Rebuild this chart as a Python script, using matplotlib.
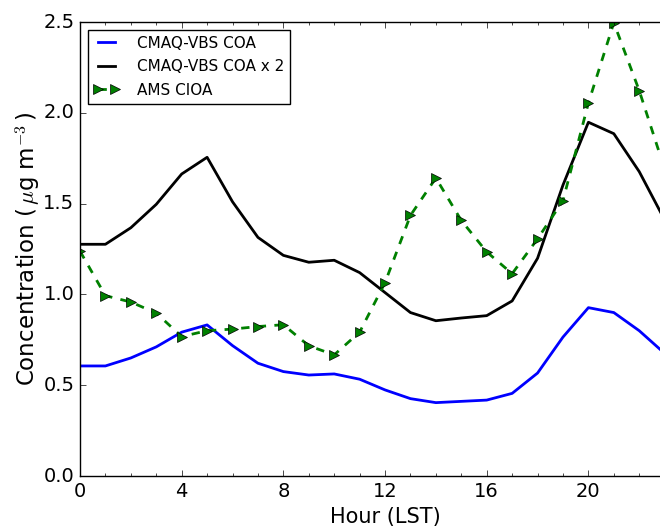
import matplotlib
matplotlib.use("Agg")
import matplotlib.pyplot as plt
from matplotlib.ticker import MultipleLocator, FixedLocator

plt.style.use("classic")
plt.rcParams["figure.facecolor"] = "white"
plt.rcParams["savefig.facecolor"] = "white"

hours = list(range(24))
cmaq_coa = [0.606, 0.606, 0.650, 0.711, 0.792, 0.832, 0.718, 0.621, 0.575, 0.556,
            0.562, 0.533, 0.474, 0.426, 0.404, 0.411, 0.418, 0.455, 0.567, 0.765,
            0.927, 0.900, 0.800, 0.675]
cmaq_coa_x2 = [1.276, 1.276, 1.367, 1.496, 1.663, 1.755, 1.510, 1.314, 1.215, 1.177,
               1.188, 1.120, 1.010, 0.900, 0.855, 0.870, 0.883, 0.964, 1.199, 1.602,
               1.948, 1.885, 1.676, 1.410]
ams_cioa = [1.238, 0.993, 0.958, 0.897, 0.768, 0.800, 0.809, 0.823, 0.833, 0.717,
            0.667, 0.792, 1.065, 1.435, 1.641, 1.407, 1.234, 1.114, 1.306, 1.516,
            2.054, 2.496, 2.122, 1.690]
xtick_labels = [0, 4, 8, 12, 16, 20]

fig = plt.figure(figsize=(6.6, 5.29), dpi=100)
ax = fig.add_axes([80 / 660, 53 / 529, 24 * 25.42 / 660, 454 / 529])

ax.plot(hours, cmaq_coa, color="blue", lw=2, label="CMAQ-VBS COA")
ax.plot(hours, cmaq_coa_x2, color="black", lw=2, label="CMAQ-VBS COA x 2")
ax.plot(hours, ams_cioa, color="green", lw=2, ls="--", marker=">", ms=6.5,
        mfc="green", mec="black", label="AMS CIOA")

ax.set_xlim(0, 24)
ax.set_ylim(0, 2.5)
ax.xaxis.set_major_locator(FixedLocator(xtick_labels))
ax.xaxis.set_minor_locator(MultipleLocator(1))
ax.yaxis.set_major_locator(MultipleLocator(0.5))
ax.yaxis.set_minor_locator(MultipleLocator(0.5))
ax.tick_params(labelsize=14)
ax.set_xlabel("Hour (LST)", fontsize=15)
ax.set_ylabel(r"Concentration ($\,\mu$g m$^{-3}\,$)", fontsize=16.5, labelpad=0)

ax.legend(loc="upper left", fontsize=11, numpoints=2, fancybox=False,
          handlelength=1.7, handletextpad=1.1, labelspacing=0.55)

fig.savefig("out.png", dpi=100)
